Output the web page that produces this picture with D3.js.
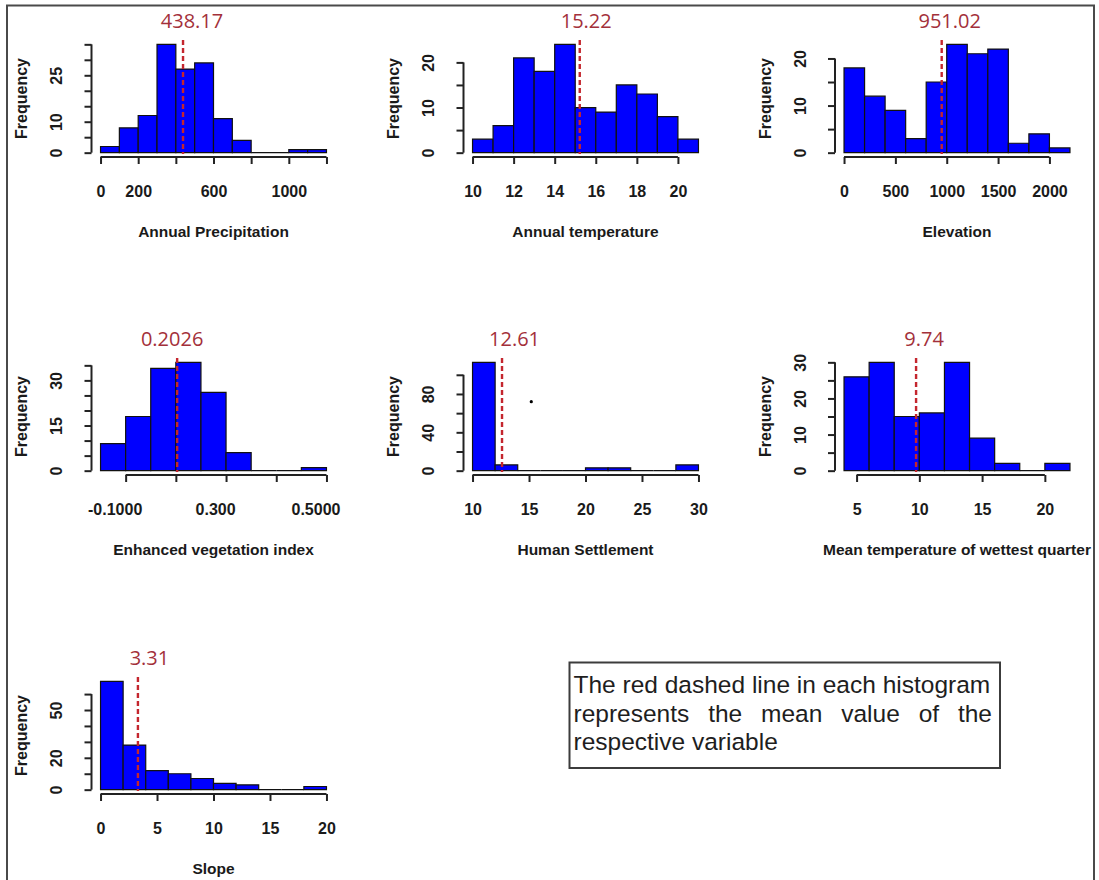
<!DOCTYPE html>
<html>
<head>
<meta charset="utf-8">
<script src="https://cdn.jsdelivr.net/npm/d3@7"></script>
<style>
  html, body { margin: 0; padding: 0; background: #fff; }
  svg { display: block; }
</style>
</head>
<body>
<svg id="chart" width="1099" height="880"></svg>
<script>
// ---------------- DATA ----------------
const titles = ["Annual Precipitation", "Annual temperature", "Elevation",
  "Enhanced vegetation index", "Human Settlement", "Mean temperature of wettest quarter", "Slope"];

const means = [438.17, 15.22, 951.02, 0.2026, 12.61, 9.74, 3.31];
const meanLabels = ["438.17", "15.22", "951.02", "0.2026", "12.61", "9.74", "3.31"];

// histogram breaks (bin edges)
const precipBreaks = [0, 100, 200, 300, 400, 500, 600, 700, 800, 900, 1000, 1100, 1200];
const tempBreaks   = [10, 11, 12, 13, 14, 15, 16, 17, 18, 19, 20, 21];
const elevBreaks   = [0, 200, 400, 600, 800, 1000, 1200, 1400, 1600, 1800, 2000, 2200];
const eviBreaks    = [0.05, 0.10, 0.15, 0.20, 0.25, 0.30, 0.35, 0.40, 0.45, 0.50];
const humanBreaks  = [10, 12, 14, 16, 18, 20, 22, 24, 26, 28, 30];
const wetBreaks    = [4, 6, 8, 10, 12, 14, 16, 18, 20, 22];
const slopeBreaks  = [0, 2, 4, 6, 8, 10, 12, 14, 16, 18, 20];

// frequencies
const precipCounts = [2, 8, 12, 35, 27, 29, 11, 4, 0, 0, 1, 1];
const tempCounts   = [3, 6, 21, 18, 24, 10, 9, 15, 13, 8, 3];
const elevCounts   = [18, 12, 9, 3, 15, 23, 21, 22, 2, 4, 1];
const eviCounts    = [9, 18, 34, 36, 26, 6, 0, 0, 1];
const humanCounts  = [113, 6, 0, 0, 0, 3, 3, 0, 0, 6];
const wetCounts    = [26, 30, 15, 16, 30, 9, 2, 0, 2];
const slopeCounts  = [68, 28, 12, 10, 7, 4, 3, 0, 0, 2];

// x axis ticks and labels
const precipXTicks = [0, 200, 400, 600, 800, 1000, 1200];
const precipXLabels = ["0", "200", "", "600", "", "1000", ""];
const tempXTicks = [10, 12, 14, 16, 18, 20];
const tempXLabels = ["10", "12", "14", "16", "18", "20"];
const elevXTicks = [0, 500, 1000, 1500, 2000];
const elevXLabels = ["0", "500", "1000", "1500", "2000"];
const eviXTicks = [0.1, 0.2, 0.3, 0.4, 0.5];
const eviXLabels = ["-0.1000", "", "0.300", "", "0.5000"];
const humanXTicks = [10, 15, 20, 25, 30];
const humanXLabels = ["10", "15", "20", "25", "30"];
const wetXTicks = [5, 10, 15, 20];
const wetXLabels = ["5", "10", "15", "20"];
const slopeXTicks = [0, 5, 10, 15, 20];
const slopeXLabels = ["0", "5", "10", "15", "20"];

// y axis ticks and labels
const precipYTicks = [0, 5, 10, 15, 20, 25, 30, 35];
const precipYLabels = ["0", "", "10", "", "", "25", "", ""];
const tempYTicks = [0, 5, 10, 15, 20];
const tempYLabels = ["0", "", "10", "", "20"];
const elevYTicks = [0, 5, 10, 15, 20];
const elevYLabels = ["0", "", "10", "", "20"];
const eviYTicks = [0, 5, 10, 15, 20, 25, 30, 35];
const eviYLabels = ["0", "", "", "15", "", "", "30", ""];
const humanYTicks = [0, 20, 40, 60, 80, 100];
const humanYLabels = ["0", "", "40", "", "80", ""];
const wetYTicks = [0, 5, 10, 15, 20, 25, 30];
const wetYLabels = ["0", "", "10", "", "20", "", "30"];
const slopeYTicks = [0, 10, 20, 30, 40, 50, 60];
const slopeYLabels = ["0", "", "20", "", "", "50", ""];

const yLabel = "Frequency";
const noteLines = ["The red dashed line in each histogram",
  "represents the mean value of the",
  "respective variable"];
// stray dot visible in the Human Settlement panel (data units of that panel)
const strayDot = { panel: 4, x: 15.2, y: 72 };

// ---------------- LAYOUT ----------------
const panels = [
  { breaks: precipBreaks, counts: precipCounts, xt: precipXTicks, xl: precipXLabels, yt: precipYTicks, yl: precipYLabels },
  { breaks: tempBreaks,   counts: tempCounts,   xt: tempXTicks,   xl: tempXLabels,   yt: tempYTicks,   yl: tempYLabels },
  { breaks: elevBreaks,   counts: elevCounts,   xt: elevXTicks,   xl: elevXLabels,   yt: elevYTicks,   yl: elevYLabels },
  { breaks: eviBreaks,    counts: eviCounts,    xt: eviXTicks,    xl: eviXLabels,    yt: eviYTicks,    yl: eviYLabels },
  { breaks: humanBreaks,  counts: humanCounts,  xt: humanXTicks,  xl: humanXLabels,  yt: humanYTicks,  yl: humanYLabels },
  { breaks: wetBreaks,    counts: wetCounts,    xt: wetXTicks,    xl: wetXLabels,    yt: wetYTicks,    yl: wetYLabels },
  { breaks: slopeBreaks,  counts: slopeCounts,  xt: slopeXTicks,  xl: slopeXLabels,  yt: slopeYTicks,  yl: slopeYLabels }
];
const grid = [[0,0],[1,0],[2,0],[0,1],[1,1],[2,1],[0,2]];
const colLeft = [91.5, 463.5, 835];
const rowTop = [40, 358, 677];
const plotW = 244, plotH = 117;
const meanLabelDx = [9, 6.5, 8, -5, 12.5, 8, 11.5];
const xLabelDx = [0, 0, 0, -11, 0, 0, 0];

const RFONT = "'Liberation Sans', Arial, sans-serif";
const svg = d3.select("#chart");

// outer frame
svg.append("rect").attr("x", 7).attr("y", 5.5).attr("width", 1087).attr("height", 900)
  .attr("fill", "none").attr("stroke", "#4a4a4a").attr("stroke-width", 2);

panels.forEach((p, i) => {
  const L = colLeft[grid[i][0]], T = rowTop[grid[i][1]];
  const B = T + plotH, R = L + plotW;
  const b0 = p.breaks[0], bN = p.breaks[p.breaks.length - 1];
  const span = bN - b0;
  const maxC = d3.max(p.counts);
  const x = d3.scaleLinear().domain([b0 - 0.04 * span, bN + 0.04 * span]).range([L, R]);
  const y = d3.scaleLinear().domain([-0.04 * maxC, 1.04 * maxC]).range([B, T]);
  const g = svg.append("g");

  // bars
  const bins = p.counts.map((c, k) => ({ x0: p.breaks[k], x1: p.breaks[k + 1], c }));
  g.selectAll("path.bar").data(bins).join("path")
    .attr("class", "bar")
    .attr("d", d => `M${x(d.x0)},${y(0)}V${y(d.c)}H${x(d.x1)}V${y(0)}Z`)
    .attr("fill", "#0000ff").attr("stroke", "#111").attr("stroke-width", 1.2);

  // x axis
  const xa = d3.axisBottom(x).tickValues(p.xt).tickSize(7).tickSizeOuter(0)
    .tickFormat((d, k) => p.xl[k]);
  const gx = g.append("g").attr("transform", `translate(0,${B})`).call(xa);
  gx.select(".domain").remove();
  gx.append("line").attr("x1", x(p.xt[0])).attr("x2", x(p.xt[p.xt.length - 1]))
    .attr("stroke", "#222").attr("stroke-width", 2);
  gx.selectAll(".tick line").attr("stroke", "#222").attr("stroke-width", 2);
  gx.selectAll(".tick text").attr("y", 34.5).attr("dy", "0.35em").attr("dx", xLabelDx[i])
    .attr("font-family", RFONT).attr("font-weight", "bold").attr("font-size", 16).attr("fill", "#1a1a1a");

  // y axis
  const ya = d3.axisLeft(y).tickValues(p.yt).tickSize(7).tickSizeOuter(0)
    .tickFormat((d, k) => p.yl[k]);
  const gy = g.append("g").attr("transform", `translate(${L},0)`).call(ya);
  gy.select(".domain").remove();
  gy.append("line").attr("y1", y(p.yt[0])).attr("y2", y(p.yt[p.yt.length - 1]))
    .attr("stroke", "#222").attr("stroke-width", 2);
  gy.selectAll(".tick line").attr("stroke", "#222").attr("stroke-width", 2);
  gy.selectAll(".tick text").attr("x", 0).attr("y", 0).attr("dy", 0)
    .attr("transform", "translate(-29.5,0) rotate(-90)").attr("text-anchor", "middle")
    .attr("font-family", RFONT).attr("font-weight", "bold").attr("font-size", 16).attr("fill", "#1a1a1a");

  // y label
  g.append("text").attr("transform", `translate(${L - 64.5},${(T + B) / 2}) rotate(-90)`)
    .attr("text-anchor", "middle").attr("font-family", RFONT).attr("font-weight", "bold")
    .attr("font-size", 16).attr("fill", "#1a1a1a").text(yLabel);

  // x label
  g.append("text").attr("x", (L + R) / 2).attr("y", B + 80).attr("text-anchor", "middle")
    .attr("font-family", RFONT).attr("font-weight", "bold").attr("font-size", 15.5)
    .attr("fill", "#1a1a1a").text(titles[i]);

  // mean line
  g.append("line").attr("x1", x(means[i])).attr("x2", x(means[i])).attr("y1", T).attr("y2", B - 3)
    .attr("stroke", "#c4262e").attr("stroke-width", 2.4).attr("stroke-dasharray", "5,3");
  g.append("text").attr("x", x(means[i]) + meanLabelDx[i]).attr("y", T - 12)
    .attr("text-anchor", "middle").attr("font-family", "'Open Sans', 'Noto Sans', sans-serif")
    .attr("font-size", 20).attr("font-weight", 500).attr("fill", "#a3303a").text(meanLabels[i]);

  if (i === strayDot.panel) {
    g.append("circle").attr("cx", x(strayDot.x)).attr("cy", y(strayDot.y)).attr("r", 1.6).attr("fill", "#000");
  }
});

// note box
const boxX = 569.5, boxY = 662.5, boxW = 430.5, boxH = 105.5;
svg.append("rect").attr("x", boxX).attr("y", boxY).attr("width", boxW).attr("height", boxH)
  .attr("fill", "#fff").attr("stroke", "#3c3c3c").attr("stroke-width", 2);
const tx0 = 573.5, tx1 = 992, baseY = [693.3, 721.7, 750];
const NFONT = "'Liberation Sans', Arial, sans-serif";
noteLines.forEach((line, li) => {
  if (li === 1) {
    // justified line
    const words = line.split(" ");
    const tmp = words.map(w => svg.append("text").attr("font-family", NFONT).attr("font-size", 24.5).text(w));
    const widths = tmp.map(t => t.node().getComputedTextLength());
    tmp.forEach(t => t.remove());
    const gap = (tx1 - tx0 - d3.sum(widths)) / (words.length - 1);
    let cx = tx0;
    words.forEach((w, k) => {
      svg.append("text").attr("x", cx).attr("y", baseY[li]).attr("font-family", NFONT)
        .attr("font-size", 24.5).attr("fill", "#1e1e1e").text(w);
      cx += widths[k] + gap;
    });
  } else {
    svg.append("text").attr("x", tx0).attr("y", baseY[li]).attr("font-family", NFONT)
      .attr("font-size", 24.5).attr("fill", "#1e1e1e").text(line);
  }
});
</script>
</body>
</html>
